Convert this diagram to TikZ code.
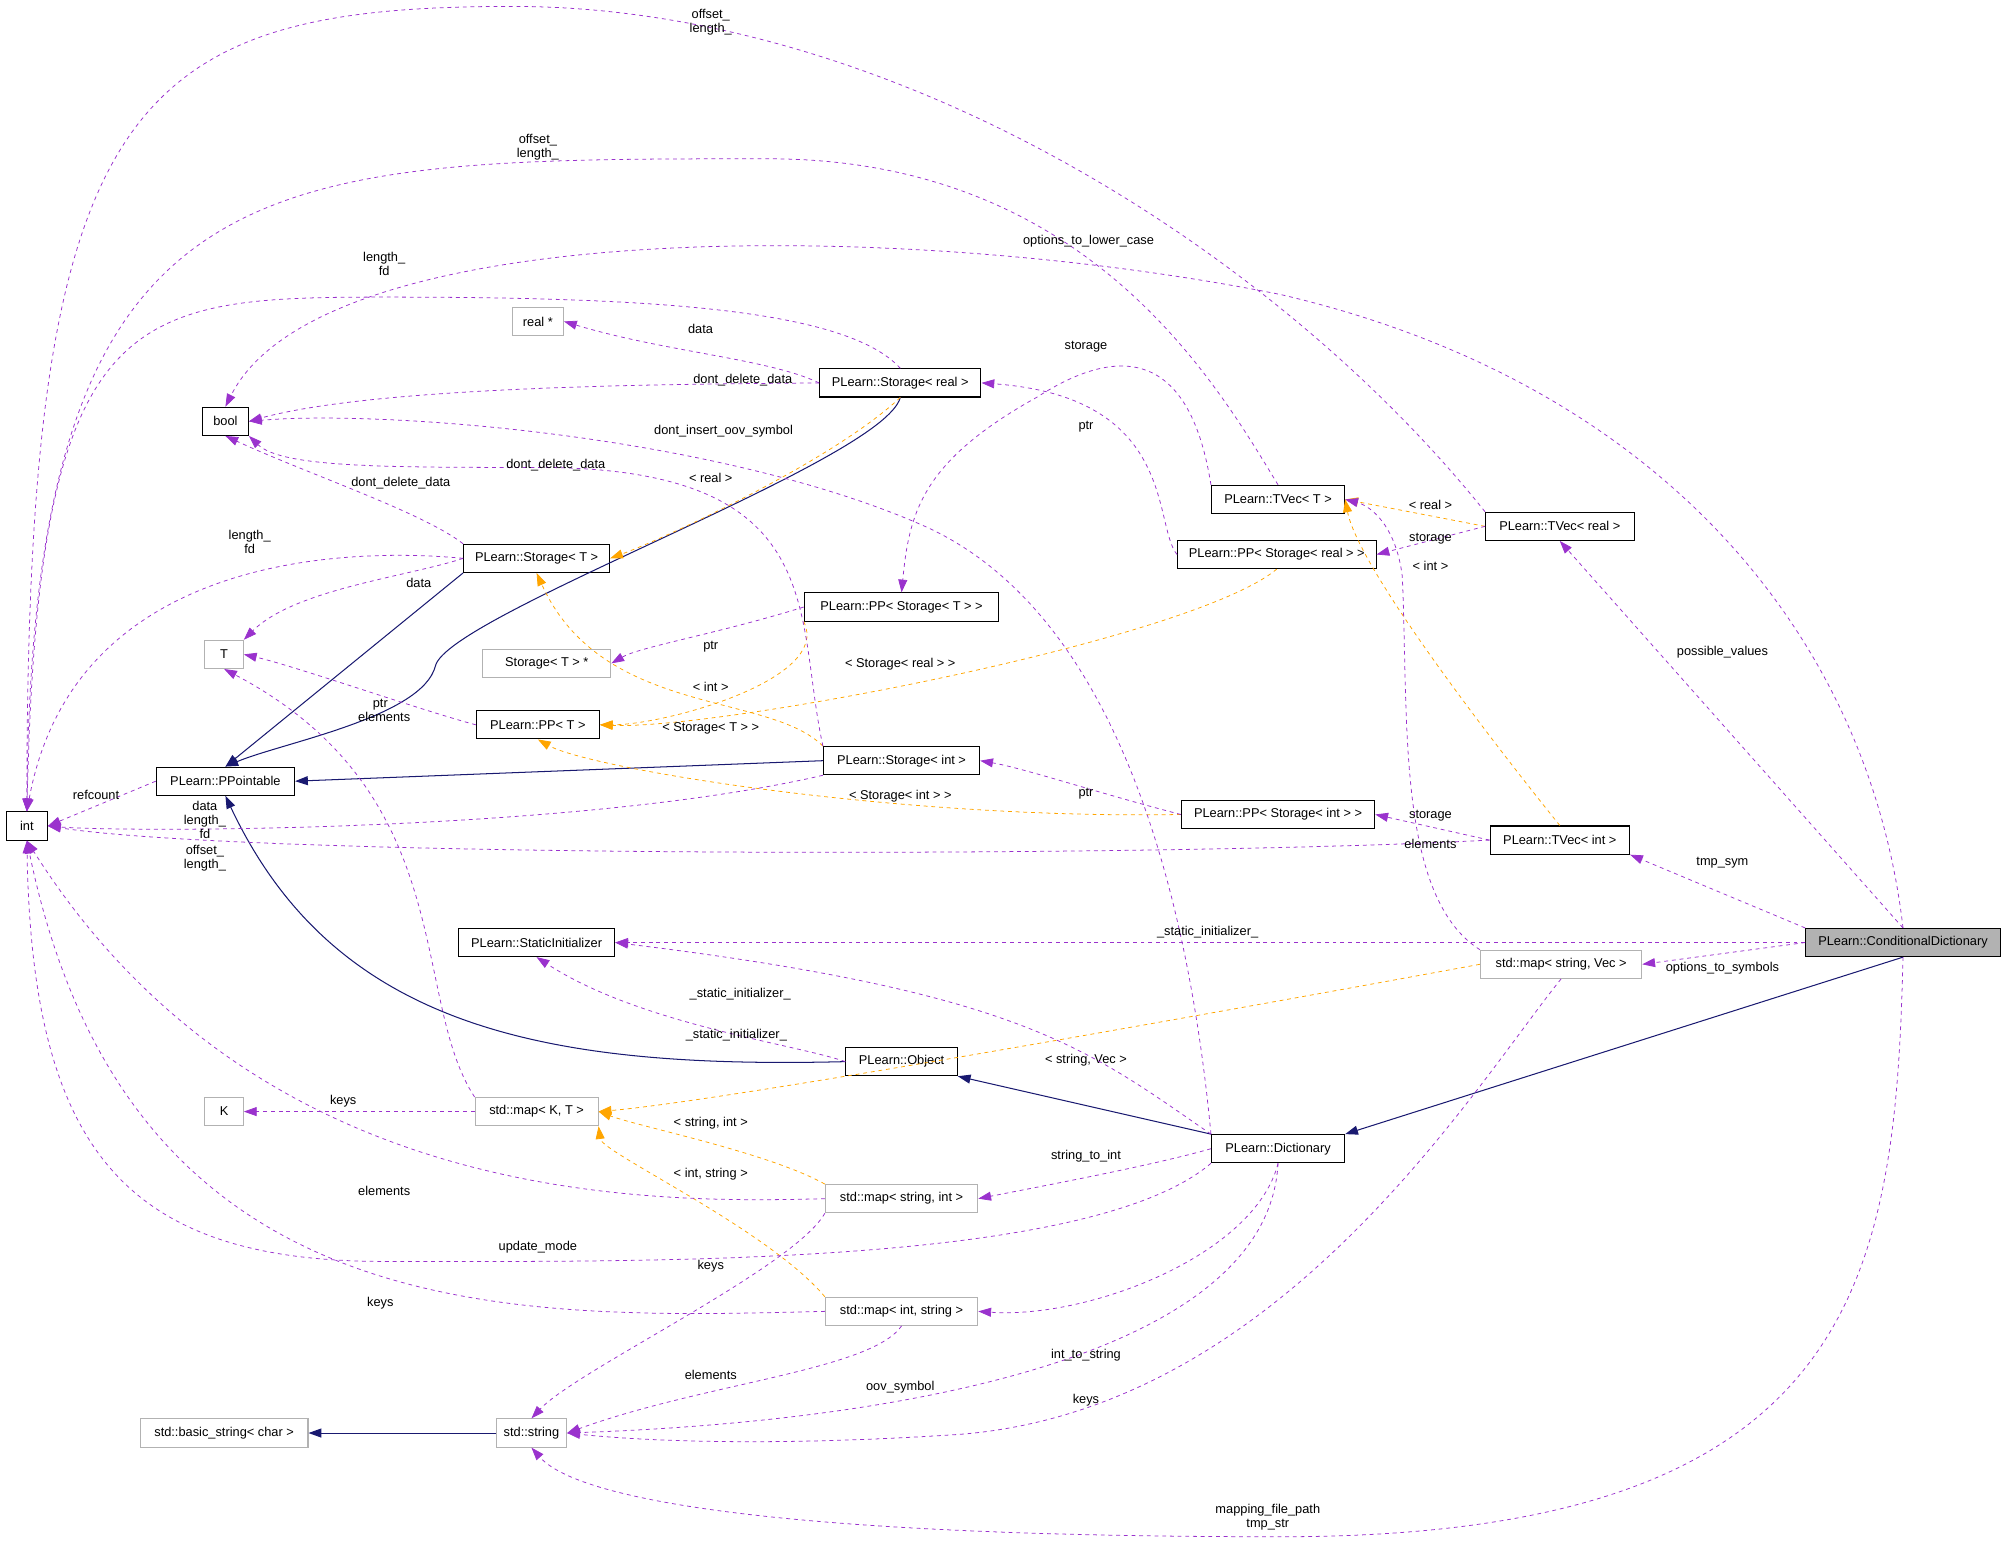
\documentclass[tikz,border=0pt]{standalone}
\usepackage{fontspec}
\setmainfont{Liberation Sans}
\usetikzlibrary{arrows.meta}
\definecolor{usecol}{HTML}{9A32CD}
\definecolor{tplcol}{HTML}{FFA500}
\definecolor{inhcol}{HTML}{191970}
\tikzset{
  cls/.style={draw,thick,inner sep=0pt,minimum height=22pt,font=\fontsize{10}{12}\selectfont},
  ext/.style={cls,draw=gray!60},
  lbl/.style={font=\fontsize{10}{11}\selectfont,align=center,inner sep=0pt},
  use/.style={usecol,semithick,dashed,-{Triangle[length=10pt,width=7pt]}},
  tpl/.style={tplcol,semithick,dashed,-{Triangle[length=10pt,width=7pt]}},
  inh/.style={inhcol,thick,-{Triangle[length=10pt,width=7pt]}}
}
\begin{document}
\begin{tikzpicture}[x=1pt,y=-1pt]
		\useasboundingbox (0,0) rectangle (1568,1204);
		% classes
		\node[cls,minimum width=32pt] (int) at (21,645) {int};
		\node[cls,minimum width=36pt] (bool) at (176,329) {bool};
		\node[ext,minimum width=40pt] (realp) at (420,251) {real *};
		\node[ext,minimum width=30pt] (T) at (175,511) {T};
		\node[ext,minimum width=100pt] (stp) at (427,518) {Storage< T > *};
		\node[ext,minimum width=30pt] (K) at (175,868) {K};
		\node[ext,minimum width=131pt] (bstr) at (175,1119) {std::basic\_string< char >};
		\node[ext,minimum width=55pt] (str) at (415,1119) {std::string};
		\node[cls,minimum width=108pt] (ppt) at (176,610) {PLearn::PPointable};
		\node[cls,minimum width=122pt] (sinit) at (419,736) {PLearn::StaticInitializer};
		\node[cls,minimum width=114pt] (stT) at (419,436) {PLearn::Storage< T >};
		\node[cls,minimum width=96pt] (ppT) at (420,566) {PLearn::PP< T >};
		\node[ext,minimum width=96pt] (mapKT) at (419,868) {std::map< K, T >};
		\node[cls,minimum width=126pt] (streal) at (703,299) {PLearn::Storage< real >};
		\node[cls,minimum width=152pt] (ppstT) at (704,474) {PLearn::PP< Storage< T > >};
		\node[cls,minimum width=122pt] (stint) at (704,594) {PLearn::Storage< int >};
		\node[cls,minimum width=87pt] (obj) at (704,829) {PLearn::Object};
		\node[ext,minimum width=119pt] (mapsi) at (704,936) {std::map< string, int >};
		\node[ext,minimum width=119pt] (mapis) at (704,1024) {std::map< int, string >};
		\node[cls,minimum width=104pt] (tvT) at (998,390) {PLearn::TVec< T >};
		\node[cls,minimum width=155pt] (ppreal) at (997,433) {PLearn::PP< Storage< real > >};
		\node[cls,minimum width=151pt] (ppint) at (998,636) {PLearn::PP< Storage< int > >};
		\node[cls,minimum width=104pt] (dict) at (998,897) {PLearn::Dictionary};
		\node[cls,minimum width=116pt] (tvreal) at (1218,411) {PLearn::TVec< real >};
		\node[cls,minimum width=109pt] (tvint) at (1218,656) {PLearn::TVec< int >};
		\node[ext,minimum width=126pt] (mapsv) at (1219,753) {std::map< string, Vec >};
		\node[cls,minimum width=152pt,fill=gray!60] (cdict) at (1486,736) {PLearn::ConditionalDictionary};

		% inheritance
		\draw[inh] (streal.south) .. controls (690,360) and (350,480) .. (340,520) .. controls (330,560) and (220,580) .. (ppt.north);
		\draw[inh] (stT.south west) -- (ppt.north);
		\draw[inh] (stint.west) -- (ppt.east);
		\draw[inh] (obj.west) .. controls (420,835) and (260,800) .. (ppt.south);
		\draw[inh] (dict.north west) -- (obj.south east);
		\draw[inh] (cdict.south) -- (dict.north east);
		\draw[inh] (str.west) -- (bstr.east);

		% templates
		\draw[tpl] (streal.south) .. controls (650,360) and (520,420) .. (stT.east);
		\draw[tpl] (stint.north west) .. controls (600,540) and (470,560) .. (stT.south);
		\draw[tpl] (ppstT.south west) .. controls (650,530) and (520,566) .. (ppT.east);
		\draw[tpl] (ppreal.south) .. controls (930,500) and (560,570) .. (ppT.east);
		\draw[tpl] (ppint.west) .. controls (700,640) and (460,600) .. (ppT.south);
		\draw[tpl] (tvreal.west) -- (tvT.east);
		\draw[tpl] (tvint.north) .. controls (1150,560) and (1060,440) .. (tvT.east);
		\draw[tpl] (mapsv.west) .. controls (900,800) and (560,860) .. (mapKT.east);
		\draw[tpl] (mapsi.north west) .. controls (600,900) and (500,880) .. (mapKT.east);
		\draw[tpl] (mapis.north west) .. controls (600,960) and (470,900) .. (mapKT.south east);
		\node[lbl] (t1) at (555,373) {< real >};
		\node[lbl] (t2) at (555,536) {< int >};
		\node[lbl] (t3) at (555,569) {< Storage< T > >};
		\node[lbl] (t4) at (703,519) {< Storage< real > >};
		\node[lbl] (t5) at (703,622) {< Storage< int > >};
		\node[lbl] (t6) at (1117,394) {< real >};
		\node[lbl] (t7) at (1117,442) {< int >};
		\node[lbl] (t8) at (848,828) {< string, Vec >};
		\node[lbl] (t9) at (555,877) {< string, int >};
		\node[lbl] (t10) at (555,917) {< int, string >};

		% uses
		\draw[use] (tvreal.north west) .. controls (1000,200) and (700,5) .. (400,5) .. controls (100,5) and (21,80) .. (int.north);
		\draw[use] (tvT.north) .. controls (950,300) and (850,124) .. (600,124) .. controls (200,124) and (25,124) .. (int.north);
		\draw[use] (streal.north) .. controls (660,240) and (500,232) .. (300,232) .. controls (100,232) and (30,240) .. (int.north);
		\draw[use] (cdict.north) .. controls (1460,500) and (1300,300) .. (1000,230) .. controls (700,170) and (250,170) .. (bool.north);
		\draw[use] (streal.west) .. controls (600,280) and (520,275) .. (realp.east);
		\draw[use] (streal.west) .. controls (550,300) and (300,300) .. (bool.east);
		\draw[use] (stT.north west) .. controls (330,400) and (240,370) .. (bool.south);
		\draw[use] (stint.north west) .. controls (620,480) and (650,365) .. (420,365) .. controls (300,365) and (220,365) .. (bool.south east);
		\draw[use] (dict.north west) .. controls (930,720) and (880,480) .. (720,410) .. controls (560,340) and (300,320) .. (bool.east);
		\draw[use] (stT.west) .. controls (300,430) and (60,420) .. (int.north);
		\draw[use] (stT.west) .. controls (320,450) and (230,460) .. (T.north east);
		\draw[use] (ppstT.west) .. controls (560,495) and (500,505) .. (stp.east);
		\draw[use] (ppT.west) .. controls (330,555) and (230,520) .. (T.east);
		\draw[use] (mapKT.north west) .. controls (320,780) and (360,620) .. (T.south);
		\draw[use] (ppt.west) -- (int.east);
		\draw[use] (stint.south west) .. controls (450,650) and (100,650) .. (int.east);
		\draw[use] (tvint.west) .. controls (900,670) and (200,670) .. (int.east);
		\draw[use] (tvT.north west) .. controls (930,280) and (880,265) .. (810,310) .. controls (720,360) and (710,400) .. (ppstT.north);
		\draw[use] (ppreal.west) .. controls (900,410) and (920,310) .. (streal.east);
		\draw[use] (tvreal.west) -- (ppreal.east);
		\draw[use] (ppint.west) .. controls (860,620) and (800,600) .. (stint.east);
		\draw[use] (tvint.west) -- (ppint.east);
		\draw[use] (mapsv.north west) .. controls (1090,700) and (1100,560) .. (1095,450) .. controls (1090,410) and (1070,395) .. (tvT.east);
		\draw[use] (cdict.north) -- (tvreal.south);
		\draw[use] (cdict.north west) -- (tvint.south east);
		\draw[use] (cdict.west) -- (sinit.east);
		\draw[use] (cdict.west) -- (mapsv.east);
		\draw[use] (cdict.south) .. controls (1480,1000) and (1450,1200) .. (1000,1200) .. controls (600,1200) and (450,1170) .. (str.south);
		\draw[use] (dict.north west) .. controls (850,820) and (800,775) .. (sinit.east);
		\draw[use] (obj.west) .. controls (620,815) and (500,800) .. (sinit.south);
		\draw[use] (mapKT.west) -- (K.east);
		\draw[use] (mapsi.west) .. controls (500,940) and (200,940) .. (int.south);
		\draw[use] (dict.south west) .. controls (850,990) and (500,985) .. (300,985) .. controls (100,985) and (25,900) .. (int.south);
		\draw[use] (mapis.west) .. controls (400,1030) and (100,1040) .. (int.south);
		\draw[use] (dict.west) .. controls (900,910) and (820,925) .. (mapsi.east);
		\draw[use] (dict.south) .. controls (980,980) and (850,1030) .. (mapis.east);
		\draw[use] (mapsi.south west) .. controls (620,990) and (450,1070) .. (str.north);
		\draw[use] (mapis.south) .. controls (680,1070) and (550,1080) .. (str.east);
		\draw[use] (dict.south) .. controls (990,1060) and (700,1110) .. (str.east);
		\draw[use] (mapsv.south) .. controls (1150,850) and (1000,1100) .. (750,1120) .. controls (600,1130) and (500,1125) .. (str.east);

		% use labels
		\node[lbl] (u1) at (555,17) {offset\_\\length\_};
		\node[lbl] (u2) at (420,115) {offset\_\\length\_};
		\node[lbl] (u3) at (300,206) {length\_\\fd};
		\node[lbl] (u4) at (850,188) {options\_to\_lower\_case};
		\node[lbl] (u5) at (547,257) {data};
		\node[lbl] (u6) at (580,297) {dont\_delete\_data};
		\node[lbl] (u7) at (313,377) {dont\_delete\_data};
		\node[lbl] (u8) at (434,363) {dont\_delete\_data};
		\node[lbl] (u9) at (565,337) {dont\_insert\_oov\_symbol};
		\node[lbl] (u10) at (195,423) {length\_\\fd};
		\node[lbl] (u11) at (327,455) {data};
		\node[lbl] (u12) at (555,505) {ptr};
		\node[lbl] (u13) at (297,550) {ptr};
		\node[lbl] (u14) at (300,560) {elements};
		\node[lbl] (u15) at (75,621) {refcount};
		\node[lbl] (u16) at (160,640) {data\\length\_\\fd};
		\node[lbl] (u17) at (160,670) {offset\_\\length\_};
		\node[lbl] (u18) at (848,271) {storage};
		\node[lbl] (u19) at (848,333) {ptr};
		\node[lbl] (u20) at (1117,421) {storage};
		\node[lbl] (u21) at (848,620) {ptr};
		\node[lbl] (u22) at (1117,637) {storage};
		\node[lbl] (u23) at (1117,659) {elements};
		\node[lbl] (u24) at (1345,509) {possible\_values};
		\node[lbl] (u25) at (1345,674) {tmp\_sym};
		\node[lbl] (u26) at (943,728) {\_static\_initializer\_};
		\node[lbl] (u27) at (1345,756) {options\_to\_symbols};
		\node[lbl] (u28) at (990,1185) {mapping\_file\_path\\tmp\_str};
		\node[lbl] (u29) at (578,776) {\_static\_initializer\_};
		\node[lbl] (u30) at (575,808) {\_static\_initializer\_};
		\node[lbl] (u31) at (268,860) {keys};
		\node[lbl] (u32) at (300,930) {elements};
		\node[lbl] (u33) at (420,974) {update\_mode};
		\node[lbl] (u34) at (297,1018) {keys};
		\node[lbl] (u35) at (848,903) {string\_to\_int};
		\node[lbl] (u36) at (848,1058) {int\_to\_string};
		\node[lbl] (u37) at (555,989) {keys};
		\node[lbl] (u38) at (555,1074) {elements};
		\node[lbl] (u39) at (703,1083) {oov\_symbol};
		\node[lbl] (u40) at (848,1093) {keys};
	\end{tikzpicture}
\end{document}
